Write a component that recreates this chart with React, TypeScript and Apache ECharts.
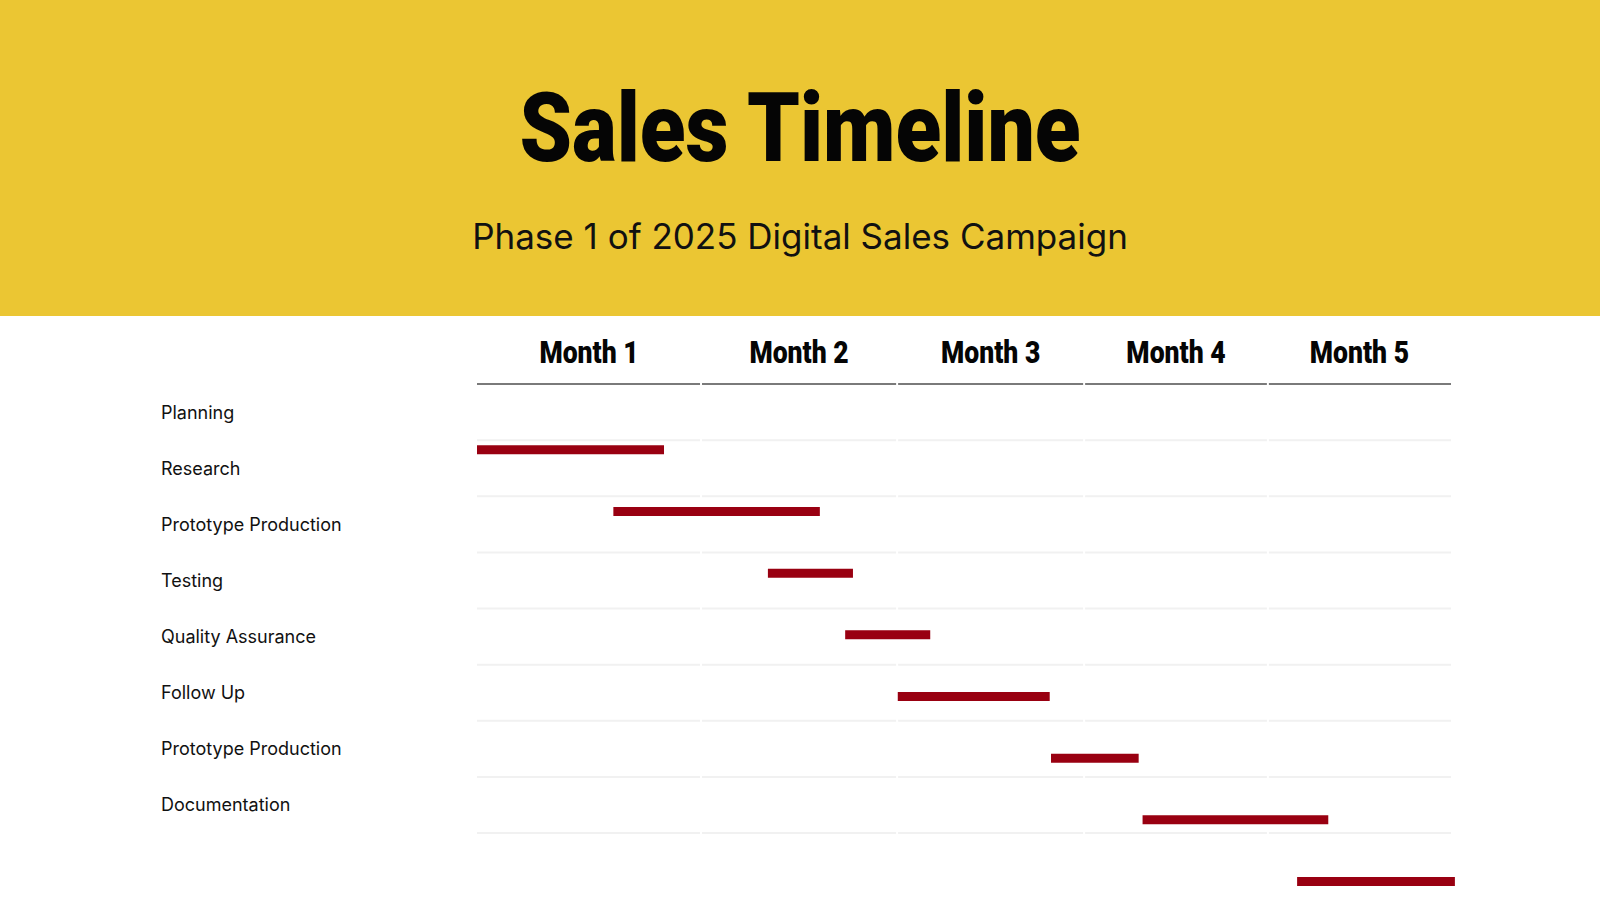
import React, { useEffect, useRef } from "react";
import * as echarts from "echarts";

// ---- data ----
const tasks = [
  "Planning",
  "Research",
  "Prototype Production",
  "Testing",
  "Quality Assurance",
  "Follow Up",
  "Prototype Production",
  "Documentation",
];
const months = ["Month 1", "Month 2", "Month 3", "Month 4", "Month 5"];
// month boundaries on the timeline (days)
const monthBounds = [0, 34.5, 64.7, 93.5, 121.8, 150];
// bar start / end (days)
const barStart = [0, 21, 44.8, 56.7, 64.8, 88.4, 102.5, 126.3];
const barEnd = [28.8, 52.8, 57.9, 69.8, 88.2, 101.9, 131.1, 150.6];

const TITLE = "Sales Timeline";
const SUBTITLE = "Phase 1 of 2025 Digital Sales Campaign";

const YELLOW = "#EBC633";
const BAR = "#990011";
const HEAVY = "'Liberation Sans Narrow', 'Arial Narrow', Roboto, sans-serif";

export default function App() {
  const ref = useRef<HTMLDivElement>(null);

  useEffect(() => {
    document.body.style.margin = "0";
    const chart = echarts.init(ref.current!, null, { renderer: "svg" });

    const gridItems: number[][] = [];
    for (let m = 0; m < months.length; m++) {
      for (let b = 0; b <= tasks.length; b++) gridItems.push([m, b]);
    }

    const option: any = {
      animation: false,
      backgroundColor: "#ffffff",
      graphic: [
        {
          type: "rect",
          z: -10,
          shape: { x: 0, y: 0, width: 1600, height: 316 },
          style: { fill: YELLOW },
        },
        {
          type: "text",
          x: 800,
          y: 128,
          scaleX: 0.875,
          style: {
            text: TITLE,
            fill: "#050505",
            font: `900 96px ${HEAVY}`,
            textAlign: "center",
            textVerticalAlign: "middle",
          },
        },
        {
          type: "text",
          x: 800,
          y: 236,
          style: {
            text: SUBTITLE,
            fill: "#111111",
            font: "35px 'Inter'",
            textAlign: "center",
            textVerticalAlign: "middle",
          },
        },
      ],
      grid: [
        { left: 477, width: 974, top: 384, height: 449 },
        { left: 477, width: 974, top: 419, height: 481 },
      ],
      xAxis: [
        { type: "value", gridIndex: 0, min: 0, max: 150, show: false },
        { type: "value", gridIndex: 1, min: 0, max: 150, show: false },
      ],
      yAxis: [
        {
          type: "category",
          gridIndex: 0,
          inverse: true,
          data: tasks,
          axisLine: { show: false },
          axisTick: { show: false },
          splitLine: { show: false },
          axisLabel: {
            align: "left",
            margin: 316,
            fontFamily: "Inter",
            fontSize: 18,
            color: "#111111",
          },
        },
        {
          type: "value",
          gridIndex: 1,
          inverse: true,
          min: -0.5,
          max: 7.3,
          show: false,
        },
      ],
      series: [
        {
          type: "custom",
          name: "grid",
          xAxisIndex: 0,
          yAxisIndex: 0,
          silent: true,
          data: gridItems,
          renderItem: (_p: any, api: any) => {
            const m = api.value(0);
            const b = api.value(1);
            const x1 = api.coord([monthBounds[m], 0])[0] + (m > 0 ? 1 : 0);
            const x2 =
              api.coord([monthBounds[m + 1], 0])[0] -
              (m < months.length - 1 ? 1 : 0);
            const bandH = api.size([0, 1])[1];
            const y = api.coord([0, 0])[1] - bandH / 2 + b * bandH;
            return {
              type: "line",
              shape: { x1, y1: y, x2, y2: y },
              style: {
                stroke: b === 0 ? "#7a7a7a" : "#f1f1f1",
                lineWidth: 2,
              },
            };
          },
        },
        {
          type: "custom",
          name: "months",
          xAxisIndex: 0,
          yAxisIndex: 0,
          silent: true,
          data: months.map((_, i) => [i]),
          renderItem: (_p: any, api: any) => {
            const m = api.value(0);
            const xa = api.coord([monthBounds[m], 0])[0];
            const xb = api.coord([monthBounds[m + 1], 0])[0];
            const bandH = api.size([0, 1])[1];
            const top = api.coord([0, 0])[1] - bandH / 2;
            return {
              type: "text",
              x: (xa + xb) / 2,
              y: top - 32,
              scaleX: 0.83,
              style: {
                text: months[m],
                fill: "#050505",
                font: `900 32px ${HEAVY}`,
                textAlign: "center",
                textVerticalAlign: "middle",
              },
            };
          },
        },
        {
          type: "custom",
          name: "bars",
          xAxisIndex: 1,
          yAxisIndex: 1,
          clip: false,
          data: tasks.map((_, i) => [barStart[i], barEnd[i], i]),
          renderItem: (_p: any, api: any) => {
            const s = api.coord([api.value(0), api.value(2)]);
            const e = api.coord([api.value(1), api.value(2)]);
            const h = 9;
            return {
              type: "rect",
              shape: { x: s[0], y: s[1] - h / 2, width: e[0] - s[0], height: h },
              style: { fill: BAR },
            };
          },
        },
      ],
    };

    chart.setOption(option);
    return () => chart.dispose();
  }, []);

  return <div ref={ref} style={{ width: 1600, height: 900 }} />;
}
